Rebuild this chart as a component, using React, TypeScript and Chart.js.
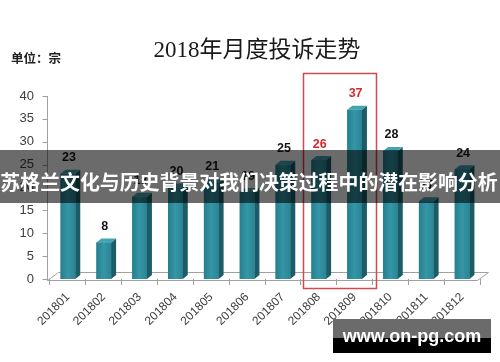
import React, { useEffect, useRef } from 'react';
import { Chart, registerables } from 'chart.js';

Chart.register(...registerables);

const months = ['201801', '201802', '201803', '201804', '201805', '201806', '201807', '201808', '201809', '201810', '201811', '201812'];
const complaints = [23, 8, 18, 20, 21, 19, 25, 26, 37, 28, 17, 24];
const highlightedMonths = ['201808', '201809'];
const yMin = 0;
const yMax = 40;
const yStep = 5;
const titleText = '2018年月度投诉走势';
const unitText = '单位：宗';
const bannerText = '苏格兰文化与历史背景对我们决策过程中的潜在影响分析';
const watermarkText = 'www.on-pg.com';

const FRONT = '#2b8a9a';
const SIDE = '#1b5c67';
const TOP = '#46a3b1';
const DX = 5;
const DY = 4;

const threeDPlugin = {
  id: 'threeD',
  beforeDraw(chart: any) {
    const { ctx, width, height } = chart;
    ctx.save();
    ctx.fillStyle = '#ffffff';
    ctx.fillRect(0, 0, width, height);
    ctx.restore();
  },
  beforeDatasetsDraw(chart: any) {
    const { ctx, chartArea: ca, scales } = chart;
    const y = scales.y;
    const y0 = y.getPixelForValue(0);
    const fl = Math.round(ca.left - 3) + 0.5;
    const fr = Math.round(ca.right - 3) + 0.5;
    const fy = Math.round(y0 + 1) + 0.5;
    ctx.save();
    ctx.strokeStyle = '#a0a0a0';
    ctx.lineWidth = 1;
    ctx.beginPath();
    ctx.moveTo(fl, fy);
    ctx.lineTo(fr, fy);
    ctx.lineTo(fr + 11, fy - 8);
    ctx.lineTo(fl + 11, fy - 8);
    ctx.closePath();
    ctx.stroke();
    ctx.beginPath();
    ctx.moveTo(fl, Math.round(y.getPixelForValue(yMax)));
    ctx.lineTo(fl, fy);
    ctx.stroke();
    y.ticks.forEach((t: any) => {
      const py = Math.round(y.getPixelForValue(t.value)) + 0.5;
      ctx.beginPath();
      ctx.moveTo(fl - 5, py);
      ctx.lineTo(fl, py);
      ctx.stroke();
    });
    ctx.restore();
  },
  afterDatasetsDraw(chart: any) {
    const { ctx } = chart;
    const meta = chart.getDatasetMeta(0);
    ctx.save();
    meta.data.forEach((el: any, i: number) => {
      const left = el.x - el.width / 2;
      const right = el.x + el.width / 2;
      const top = el.y;
      const base = el.base;
      const g = ctx.createLinearGradient(left, 0, right, 0);
      g.addColorStop(0, '#267f8e');
      g.addColorStop(0.5, '#3596a6');
      g.addColorStop(1, '#2a8595');
      ctx.fillStyle = g;
      ctx.fillRect(left, top, right - left, base - top);
      ctx.fillStyle = SIDE;
      ctx.beginPath();
      ctx.moveTo(right, top);
      ctx.lineTo(right + DX, top - DY);
      ctx.lineTo(right + DX, base - DY);
      ctx.lineTo(right, base);
      ctx.closePath();
      ctx.fill();
      ctx.fillStyle = TOP;
      ctx.beginPath();
      ctx.moveTo(left, top);
      ctx.lineTo(left + DX, top - DY);
      ctx.lineTo(right + DX, top - DY);
      ctx.lineTo(right, top);
      ctx.closePath();
      ctx.fill();
      const hl = highlightedMonths.includes(months[i]);
      ctx.font = 'bold 12.5px "Liberation Sans", Arial, sans-serif';
      ctx.fillStyle = hl ? '#d9262c' : '#151515';
      ctx.textAlign = 'center';
      ctx.textBaseline = 'middle';
      ctx.fillText(String(complaints[i]), el.x + 1, top - 16);
    });
    ctx.restore();
  },
  afterDraw(chart: any) {
    const { ctx, chartArea: ca, scales, width } = chart;
    const x = scales.x;
    const y = scales.y;
    ctx.save();
    ctx.fillStyle = '#1a1a1a';
    ctx.font = '23px "Liberation Serif", "Noto Sans CJK SC", serif';
    ctx.textAlign = 'center';
    ctx.textBaseline = 'middle';
    ctx.fillText(titleText, 257, 51);
    ctx.font = 'bold 12.5px "Noto Sans CJK SC", sans-serif';
    ctx.textAlign = 'left';
    ctx.fillStyle = '#222';
    ctx.fillText(unitText, 11, 58);
    const cw = (ca.right - ca.left) / months.length;
    const i0 = months.indexOf(highlightedMonths[0]);
    const i1 = months.indexOf(highlightedMonths[highlightedMonths.length - 1]);
    const rl = Math.round(x.getPixelForValue(i0) - cw / 2 + 2) + 0.5;
    const rr = Math.round(x.getPixelForValue(i1) + cw / 2 + 3) + 0.5;
    const rt = Math.round(y.getPixelForValue(45)) + 0.5;
    const rb = Math.round(y.getPixelForValue(0) + 9) + 0.5;
    ctx.strokeStyle = '#d24a4e';
    ctx.lineWidth = 1.5;
    ctx.strokeRect(rl, rt, rr - rl, rb - rt);
    ctx.fillStyle = 'rgba(0,0,0,0.58)';
    ctx.fillRect(0, 150, width, 53);
    ctx.fillStyle = '#ffffff';
    ctx.font = 'bold 19.9px "Noto Sans CJK SC", sans-serif';
    ctx.textAlign = 'center';
    ctx.textBaseline = 'middle';
    ctx.fillText(bannerText, 249, 182);
    ctx.fillStyle = '#6b6b6b';
    ctx.fillRect(333, 319, 158, 19);
    ctx.fillStyle = '#000000';
    ctx.fillRect(333, 338, 158, 15);
    ctx.fillStyle = '#ffffff';
    ctx.font = 'bold 18px "Liberation Sans", Arial, sans-serif';
    ctx.fillText(watermarkText, 412, 337);
    ctx.restore();
  },
};

export default function App() {
  const canvasRef = useRef<HTMLCanvasElement | null>(null);

  useEffect(() => {
    document.body.style.margin = '0';
    const canvas = canvasRef.current;
    if (!canvas) return;
    const chart = new Chart(canvas, {
      type: 'bar',
      data: {
        labels: months,
        datasets: [
          {
            data: complaints,
            backgroundColor: FRONT,
            borderWidth: 0,
            categoryPercentage: 1,
            barPercentage: 0.41,
          },
        ],
      },
      options: {
        responsive: false,
        animation: false,
        events: [],
        layout: { padding: { top: 96, right: 20, left: 0, bottom: 0 } },
        plugins: {
          legend: { display: false },
          title: { display: false },
          tooltip: { enabled: false },
        },
        scales: {
          x: {
            offset: true,
            border: { display: false },
            grid: {
              display: true,
              offset: true,
              drawOnChartArea: false,
              drawTicks: true,
              tickLength: 6,
              color: '#a0a0a0',
            },
            ticks: {
              autoSkip: false,
              minRotation: 45,
              maxRotation: 45,
              padding: 5,
              color: '#404040',
              font: { family: '"Liberation Sans", Arial, sans-serif', size: 12 },
            },
            afterFit(scale: any) {
              scale.height = 83;
            },
          },
          y: {
            min: yMin,
            max: yMax,
            border: { display: false },
            grid: { display: false, drawTicks: false },
            ticks: {
              stepSize: yStep,
              padding: 16,
              color: '#404040',
              font: { family: '"Liberation Sans", Arial, sans-serif', size: 13 },
            },
            afterFit(scale: any) {
              scale.width = 50;
            },
          },
        },
      },
      plugins: [threeDPlugin],
    } as any);
    return () => chart.destroy();
  }, []);

  return (
    <div style={{ position: 'absolute', left: 0, top: 0, width: 500, height: 362 }}>
      <canvas ref={canvasRef} width={500} height={362} style={{ width: 500, height: 362, display: 'block' }} />
    </div>
  );
}
